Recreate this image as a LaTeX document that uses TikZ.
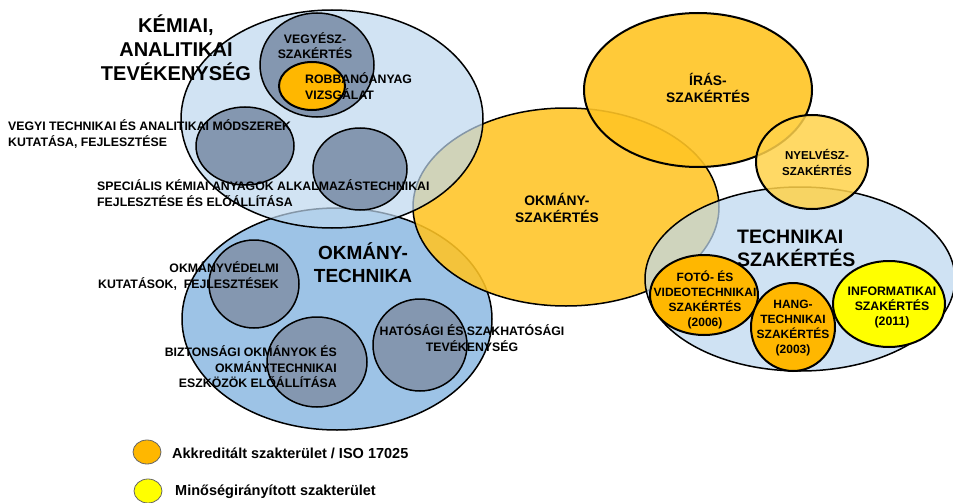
\documentclass[tikz,border=0pt]{standalone}
\usepackage{fontspec}
\setmainfont{Liberation Sans}
\usetikzlibrary{shapes.geometric}
\definecolor{lblue}{HTML}{BDD7EE}
\definecolor{mblue}{HTML}{9DC3E6}
\definecolor{gblue}{HTML}{8497B0}
\definecolor{orA}{HTML}{FFC424}
\definecolor{orB}{HTML}{FFB700}
\definecolor{orC}{HTML}{FFD24A}
\definecolor{yel}{HTML}{FFFF00}
\tikzset{
  ell/.style={ellipse, draw=black, line width=1.5pt, inner sep=0pt},
  thick ell/.style={ell, line width=2pt},
  big/.style={font=\bfseries\fontsize{20}{24}\selectfont, align=center, inner sep=0pt},
  mid/.style={font=\bfseries\fontsize{13.8}{17}\selectfont, align=center, inner sep=0pt},
  sm/.style={font=\bfseries\fontsize{12.3}{15.5}\selectfont, inner sep=0pt},
  leg/.style={font=\bfseries\fontsize{14.5}{15}\selectfont, inner sep=0pt, anchor=west},
}
\newcommand{\ellat}[6]{\node[#1, minimum width=#4pt, minimum height=#5pt, #6] (#2) at #3 {};}
\begin{document}
\begin{tikzpicture}[x=1pt, y=-1pt]
\useasboundingbox (0,0) rectangle (953,503);
% okmanytechnika
\ellat{ell}{okt}{(337,319)}{310}{222}{fill=mblue}
% inner circles of okmanytechnika
\ellat{ell}{okv}{(254,284)}{90}{88}{fill=gblue}
\ellat{ell}{bizt}{(317,362)}{100}{90}{fill=gblue}
\ellat{ell}{hat}{(420,345)}{94}{92}{fill=gblue}
% okmany-szakertes
\ellat{ell}{oksz}{(566,207)}{306}{198}{fill=orA, fill opacity=0.88}
% kemiai
\ellat{ell}{kem}{(332,119)}{302}{218}{fill=lblue, fill opacity=0.7}
\ellat{ell}{veg}{(317,65)}{114}{104}{fill=gblue}
\ellat{thick ell}{robb}{(312,86)}{66}{48}{fill=orB}
\ellat{ell}{vegyi}{(245,146)}{98}{78}{fill=gblue}
\ellat{ell}{spec}{(360,169)}{94}{82}{fill=gblue}
% iras
\ellat{thick ell}{iras}{(698,90)}{228}{154}{fill=orA, fill opacity=0.9}
% technikai
\ellat{ell}{tech}{(800,279)}{310}{184}{fill=lblue, fill opacity=0.72}
% nyelvesz
\ellat{thick ell}{nyel}{(812,162)}{112}{94}{fill=orC, fill opacity=0.85}
% technical sub-areas
\ellat{thick ell}{foto}{(704,295)}{108}{80}{fill=orB}
\ellat{thick ell}{hang}{(793,327)}{84}{88}{fill=orB}
\ellat{thick ell}{info}{(889,304)}{112}{86}{fill=yel}
% legend
\ellat{ell}{legA}{(147,452)}{28}{24}{fill=orB, draw=black!60, line width=0.8pt}
\ellat{ell}{legB}{(148,491)}{28}{24}{fill=yel, draw=black!60, line width=0.8pt}
% texts
\node[big] (tKem) at (176,48) {KÉMIAI,\\ANALITIKAI\\TEVÉKENYSÉG};
\node[mid, font=\bfseries\fontsize{12.3}{15}\selectfont] (tVeg) at (315,46) {VEGYÉSZ-\\SZAKÉRTÉS};
\node[sm, align=left, anchor=west] (tRobb) at (305,86) {ROBBANÓANYAG\\VIZSGÁLAT};
\node[sm, align=left, anchor=west] (tVegyi) at (8,134) {VEGYI TECHNIKAI ÉS ANALITIKAI MÓDSZEREK\\KUTATÁSA, FEJLESZTÉSE};
\node[sm, align=left, anchor=west] (tSpec) at (97,193) {SPECIÁLIS KÉMIAI ANYAGOK ALKALMAZÁSTECHNIKAI\\FEJLESZTÉSE ÉS ELŐÁLLÍTÁSA};
\node[big, font=\bfseries\fontsize{19}{23}\selectfont] (tOkt) at (363,263) {OKMÁNY-\\TECHNIKA};
\node[sm, align=right, anchor=east] (tOkv) at (279,276) {OKMÁNYVÉDELMI\\KUTATÁSOK,\ \ FEJLESZTÉSEK};
\node[sm, align=right, anchor=east] (tBizt) at (337,367) {BIZTONSÁGI OKMÁNYOK ÉS\\OKMÁNYTECHNIKAI\\ESZKÖZÖK ELŐÁLLÍTÁSA};
\node[sm, align=center] (tHat) at (472,338) {HATÓSÁGI ÉS SZAKHATÓSÁGI\\TEVÉKENYSÉG};
\node[mid] (tOksz) at (557,208) {OKMÁNY-\\SZAKÉRTÉS};
\node[mid] (tIras) at (708,88) {ÍRÁS-\\SZAKÉRTÉS};
\node[mid, font=\bfseries\fontsize{11.5}{16}\selectfont] (tNyel) at (817,162) {NYELVÉSZ-\\SZAKÉRTÉS};
\node[big, align=left, anchor=west, font=\bfseries\fontsize{19.5}{23}\selectfont] (tTech) at (737,248) {TECHNIKAI\\SZAKÉRTÉS};
\node[sm, align=center, font=\bfseries\fontsize{12}{15}\selectfont] (tFoto) at (705,300) {FOTÓ- ÉS\\VIDEOTECHNIKAI\\SZAKÉRTÉS\\(2006)};
\node[sm, align=center, font=\bfseries\fontsize{12}{15}\selectfont] (tHang) at (793,328) {HANG-\\TECHNIKAI\\SZAKÉRTÉS\\(2003)};
\node[sm, align=center, font=\bfseries\fontsize{12.3}{15}\selectfont] (tInfo) at (892,307) {INFORMATIKAI\\SZAKÉRTÉS\\(2011)};
\node[leg] (lA) at (172,453) {Akkreditált szakterület / ISO 17025};
\node[leg] (lB) at (175,492) {Minőségirányított szakterület};
\end{tikzpicture}
\end{document}
